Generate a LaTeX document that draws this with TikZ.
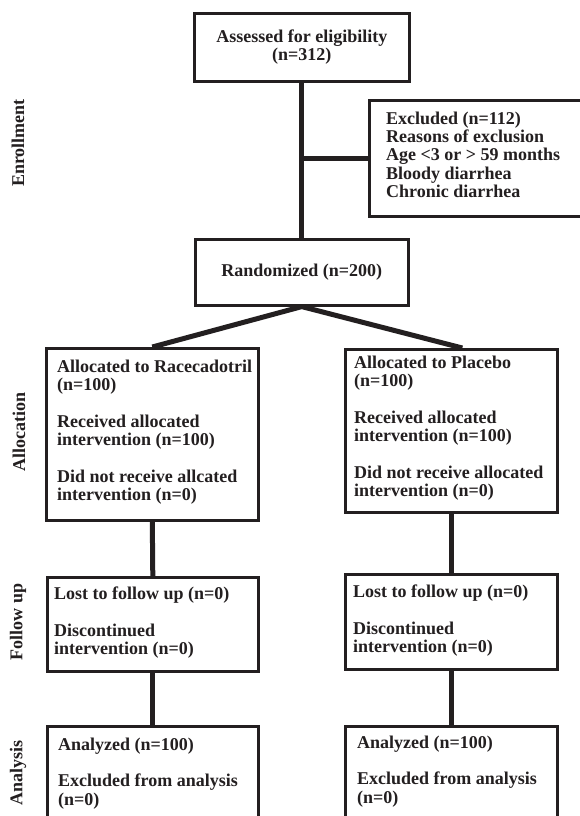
\documentclass[tikz,border=0pt]{standalone}
\usepackage{fontspec}
\setmainfont{Liberation Serif}
\definecolor{ink}{RGB}{35,31,32}
\begin{document}
\begin{tikzpicture}[x=1pt,y=-1pt,
  box/.style={draw=ink, line width=2.6pt, inner sep=0pt, anchor=north west},
  conn/.style={draw=ink, line width=5pt, line join=miter},
  bf/.style={font=\bfseries\fontsize{18}{18.3}\selectfont, text=ink},
  txt/.style={bf, align=left, inner sep=0pt, anchor=north west},
  lbl/.style={bf, rotate=90, inner sep=0pt}]
\clip (0,0) rectangle (580,816);
\fill[white] (0,0) rectangle (580,816);
% boxes
\node[box, bf, align=center, minimum width=215pt, minimum height=68pt] (top) at (193,12)
  {\baselineskip=20pt Assessed for eligibility\\(n=312)};
\node[box, minimum width=230pt, minimum height=116pt] (excl) at (368,99) {};
\node[box, bf, minimum width=213pt, minimum height=66pt] (rand) at (194,238) {Randomized (n=200)};
\node[box, minimum width=212pt, minimum height=172pt] (alloc1) at (45,347) {};
\node[box, minimum width=212pt, minimum height=163pt] (alloc2) at (344,348) {};
\node[box, minimum width=211pt, minimum height=94pt] (fu1) at (46,576) {};
\node[box, minimum width=212pt, minimum height=95pt] (fu2) at (344,573) {};
\node[box, minimum width=211pt, minimum height=100pt] (an1) at (46,725) {};
\node[box, minimum width=212pt, minimum height=100pt] (an2) at (344,725) {};
% texts
\node[txt] (exclT) at ([shift={(18,12.6)}]excl.north west)
  {Excluded (n=112)\\Reasons of exclusion\\Age <3 or > 59 months\\Bloody diarrhea\\Chronic diarrhea};
\node[txt] (alloc1T) at ([shift={(12,12.6)}]alloc1.north west)
  {Allocated to Racecadotril\\(n=100)\\[18.3pt]Received allocated\\intervention (n=100)\\[18.3pt]Did not receive allcated\\intervention (n=0)};
\node[txt] (alloc2T) at ([shift={(10,7.6)}]alloc2.north west)
  {Allocated to Placebo\\(n=100)\\[18.3pt]Received allocated\\intervention (n=100)\\[18.3pt]Did not receive allocated\\intervention (n=0)};
\node[txt] (fu1T) at ([shift={(8,10.6)}]fu1.north west)
  {Lost to follow up (n=0)\\[18.3pt]Discontinued\\intervention (n=0)};
\node[txt] (fu2T) at ([shift={(9,11.6)}]fu2.north west)
  {Lost to follow up (n=0)\\[18.3pt]Discontinued\\intervention (n=0)};
\node[txt] (an1T) at ([shift={(12,12.6)}]an1.north west)
  {Analyzed (n=100)\\[18.3pt]Excluded from analysis\\(n=0)};
\node[txt] (an2T) at ([shift={(13,10.6)}]an2.north west)
  {Analyzed (n=100)\\[18.3pt]Excluded from analysis\\(n=0)};
% side labels
\node[lbl] (lEnr) at (18,143) {Enrollment};
\node[lbl] (lAll) at (19,432) {Allocation};
\node[lbl] (lFol) at (18,622) {Follow up};
\node[lbl] (lAna) at (18,773) {Analysis};
% connectors
\draw[conn] (top.south) -- (rand.north);
\draw[conn] (top.south |- excl.west) -- (excl.west);
\draw[conn] (alloc1.north) -- (rand.south) -- ([xshift=11pt]alloc2.north);
\draw[conn] (alloc1.south) -- (fu1.north);
\draw[conn] (alloc2.south) -- (fu2.north);
\draw[conn] (fu1.south) -- (an1.north);
\draw[conn] (fu2.south) -- (an2.north);
\end{tikzpicture}
\end{document}
